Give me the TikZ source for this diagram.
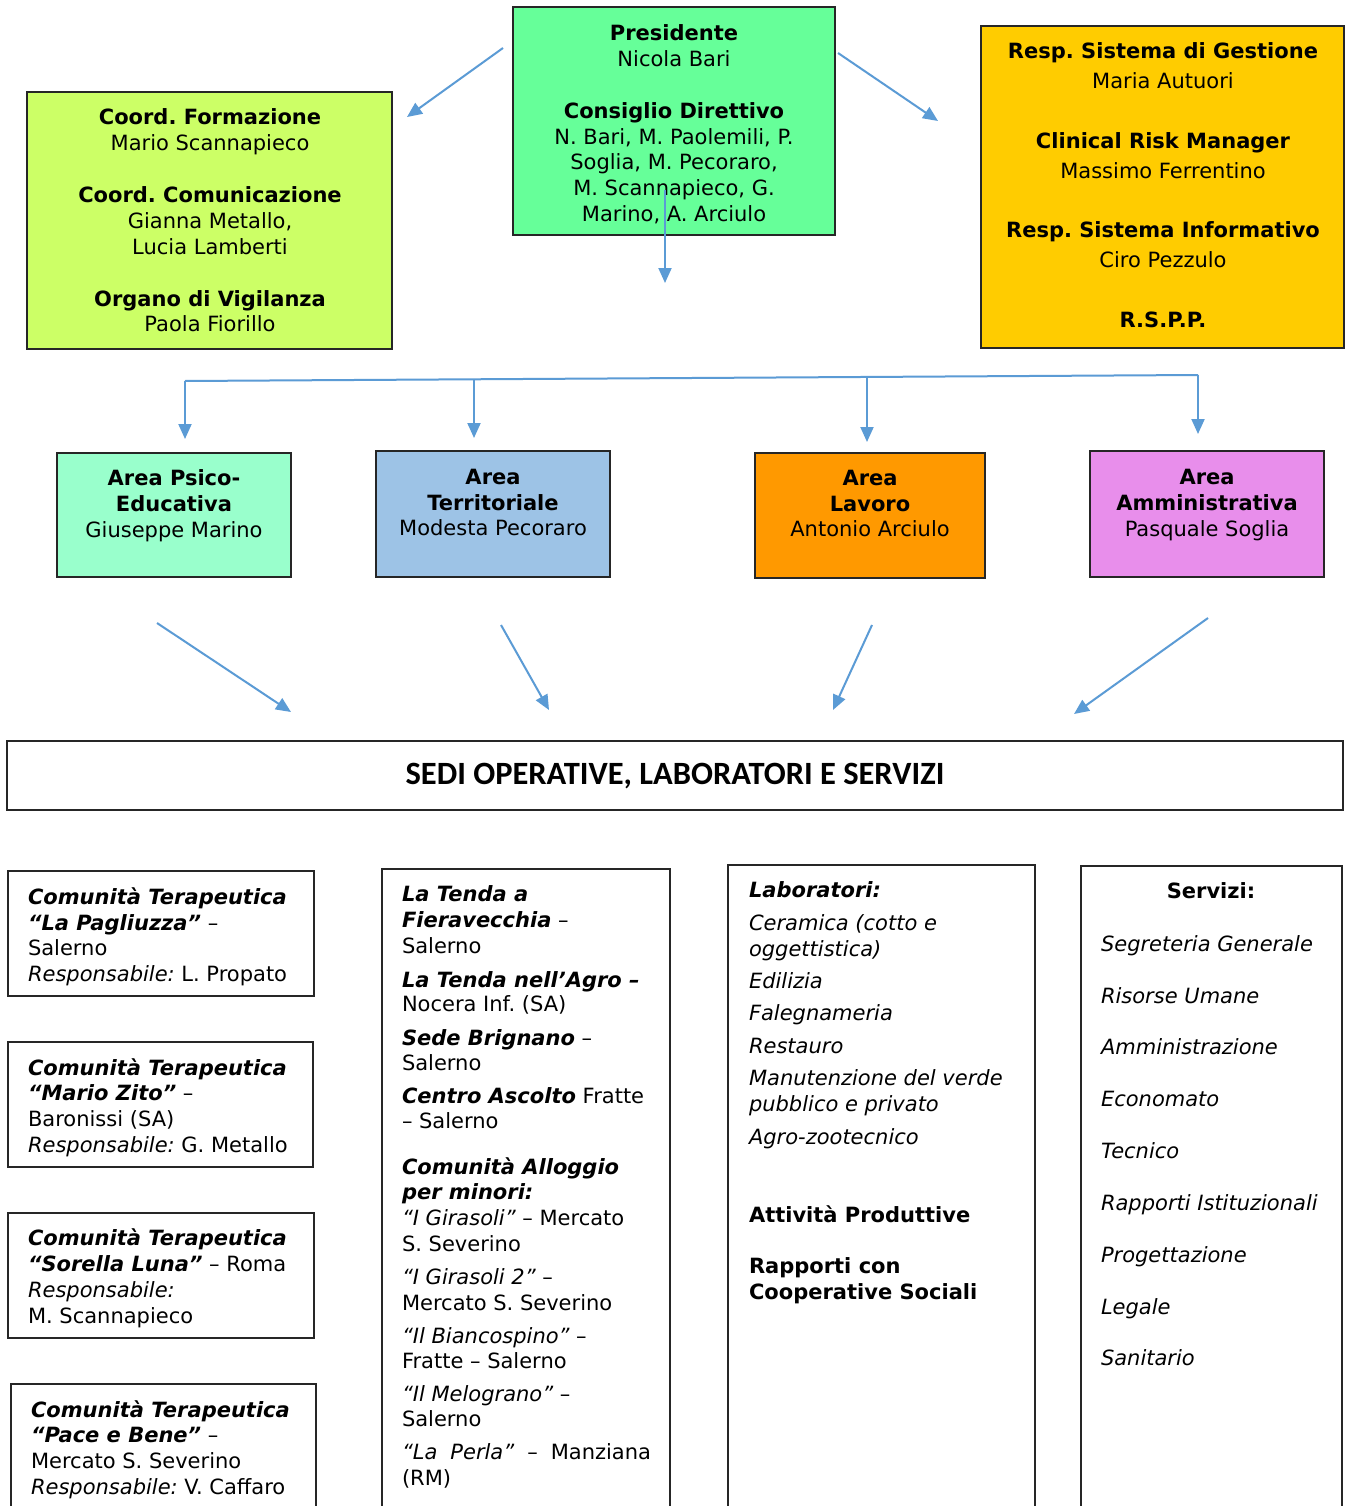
\documentclass[tikz,border=0pt]{standalone}
\usepackage{fontspec}
\setmainfont{DejaVu Sans}
\newfontfamily\titlefont{Carlito}
\usetikzlibrary{arrows.meta}
\frenchspacing
\definecolor{arrowblue}{HTML}{5B9BD5}
\definecolor{presgreen}{HTML}{66FF99}
\definecolor{leftgreen}{HTML}{CCFF66}
\definecolor{rightyellow}{HTML}{FFCC00}
\definecolor{psico}{HTML}{99FFCC}
\definecolor{territ}{HTML}{9DC3E6}
\definecolor{lavoro}{HTML}{FF9900}
\definecolor{ammin}{HTML}{E88EEB}
\begin{document}
\begin{tikzpicture}[x=1pt,y=-1pt,
  boxst/.style={draw=black!85, line width=1.3pt, inner sep=0pt, outer sep=0pt, anchor=north west},
  txt/.style={font=\fontsize{21}{26}\selectfont\frenchspacing, inner sep=0pt, outer sep=0pt},
  arr/.style={draw=arrowblue, line width=2pt, -{Triangle[length=15pt,width=13pt]}},
  lin/.style={draw=arrowblue, line width=2pt}]
\useasboundingbox (0,0) rectangle (1345,1506);
\clip (0,0) rectangle (1345,1506);
\fill[white] (0,0) rectangle (1345,1506);

% ---------- top boxes
\node[boxst, fill=presgreen, minimum width=322pt, minimum height=228pt] (pres) at (513,7) {};
\node[boxst, fill=leftgreen, minimum width=365pt, minimum height=257pt] (coord) at (27,92) {};
\node[boxst, fill=rightyellow, minimum width=363pt, minimum height=322pt] (resp) at (981,26) {};

\foreach \lyy/\ltx [count=\i] in {32/{\bfseries Presidente}, 58/{Nicola Bari},
   110/{\bfseries Consiglio Direttivo}, 136/{N. Bari, M. Paolemili, P.},
   161/{Soglia, M. Pecoraro,}, 187/{M. Scannapieco, G.}, 213/{Marino, A. Arciulo}}
  \node[txt, anchor=base] (pt\i) at (674,\lyy+8.5) {\ltx};

\foreach \lyy/\ltx [count=\i] in {116/{\bfseries Coord. Formazione}, 142/{Mario Scannapieco},
   194/{\bfseries Coord. Comunicazione}, 220/{Gianna Metallo,}, 246/{Lucia Lamberti},
   298/{\bfseries Organo di Vigilanza}, 323/{Paola Fiorillo}}
  \node[txt, anchor=base] (ct\i) at (210,\lyy+8.5) {\ltx};

\foreach \lyy/\ltx [count=\i] in {50/{\bfseries Resp. Sistema di Gestione}, 80/{Maria Autuori},
   140/{\bfseries Clinical Risk Manager}, 170/{Massimo Ferrentino},
   229/{\bfseries Resp. Sistema Informativo}, 259/{Ciro Pezzulo},
   319/{\bfseries R.S.P.P.}}
  \node[txt, anchor=base] (rt\i) at (1163,\lyy+8.5) {\ltx};

% ---------- arrows from presidente
\coordinate (pa1) at (503,48);  \coordinate (pb1) at (407,117);
\coordinate (pa2) at (838,53);  \coordinate (pb2) at (938,121);
\coordinate (pa3) at (665,190); \coordinate (pb3) at (665,283);
\draw[arr] (pa1) -- (pb1);
\draw[arr] (pa2) -- (pb2);
\draw[arr] (pa3) -- (pb3);

% ---------- area boxes
\node[boxst, fill=psico, minimum width=234pt, minimum height=124pt] (a1) at (57,453) {};
\node[boxst, fill=territ, minimum width=234pt, minimum height=126pt] (a2) at (376,451) {};
\node[boxst, fill=lavoro, minimum width=230pt, minimum height=125pt] (a3) at (755,453) {};
\node[boxst, fill=ammin, minimum width=234pt, minimum height=126pt] (a4) at (1090,451) {};

\node[txt, anchor=base] (a1t1) at (174,485.5) {\bfseries Area Psico-};
\node[txt, anchor=base] (a1t2) at (174,511.5) {\bfseries Educativa};
\node[txt, anchor=base] (a1t3) at (174,537.5) {Giuseppe Marino};
\node[txt, anchor=base] (a2t1) at (493,484.5) {\bfseries Area};
\node[txt, anchor=base] (a2t2) at (493,510.5) {\bfseries Territoriale};
\node[txt, anchor=base] (a2t3) at (493,535.5) {Modesta Pecoraro};
\node[txt, anchor=base] (a3t1) at (870,485.5) {\bfseries Area};
\node[txt, anchor=base] (a3t2) at (870,511.5) {\bfseries Lavoro};
\node[txt, anchor=base] (a3t3) at (870,536.5) {Antonio Arciulo};
\node[txt, anchor=base] (a4t1) at (1207,484.5) {\bfseries Area};
\node[txt, anchor=base] (a4t2) at (1207,510.5) {\bfseries Amministrativa};
\node[txt, anchor=base] (a4t3) at (1207,536.5) {Pasquale Soglia};

% ---------- tree connector
\coordinate (h1) at (185,381);
\coordinate (h2) at (474,379.3);
\coordinate (h3) at (867,377);
\coordinate (h4) at (1198,375);
\coordinate (d1) at (185,439);
\coordinate (d2) at (474,438);
\coordinate (d3) at (867,442);
\coordinate (d4) at (1198,434);
\draw[lin] (h1) -- (h4);
\draw[arr] (h1) -- (d1);
\draw[arr] (h2) -- (d2);
\draw[arr] (h3) -- (d3);
\draw[arr] (h4) -- (d4);

% ---------- arrows to sedi
\coordinate (s1a) at (157,623);  \coordinate (s1b) at (291,712);
\coordinate (s2a) at (501,625);  \coordinate (s2b) at (549,710);
\coordinate (s3a) at (872,625);  \coordinate (s3b) at (833,710);
\coordinate (s4a) at (1208,618); \coordinate (s4b) at (1074,714);
\draw[arr] (s1a) -- (s1b);
\draw[arr] (s2a) -- (s2b);
\draw[arr] (s3a) -- (s3b);
\draw[arr] (s4a) -- (s4b);

% ---------- sedi box
\node[boxst, fill=white, minimum width=1336pt, minimum height=69pt] (sedi) at (7,741) {};
\node[inner sep=0pt, font=\titlefont\bfseries\fontsize{32.5}{38}\selectfont] (seditxt) at ([yshift=-1pt]sedi.center) {SEDI OPERATIVE, LABORATORI E SERVIZI};

% ---------- column 1 boxes
\node[boxst, minimum width=306pt, minimum height=125pt] (c1) at (8,871) {};
\node[boxst, minimum width=305pt, minimum height=125pt] (c2) at (8,1042) {};
\node[boxst, minimum width=306pt, minimum height=125pt] (c3) at (8,1213) {};
\node[boxst, minimum width=305pt, minimum height=140pt] (c4) at (11,1384) {};

\foreach \lyy/\ltx [count=\i] in {896/{\bfseries\itshape Comunità Terapeutica},
   922/{{\bfseries\itshape “La Pagliuzza”} –}, 947/{Salerno},
   973/{{\itshape Responsabile:} L. Propato}}
  \node[txt, anchor=base west] (c1t\i) at (28,\lyy+8.5) {\ltx};
\foreach \lyy/\ltx [count=\i] in {1067/{\bfseries\itshape Comunità Terapeutica},
   1092/{{\bfseries\itshape “Mario Zito”} –}, 1118/{Baronissi (SA)},
   1144/{{\itshape Responsabile:} G. Metallo}}
  \node[txt, anchor=base west] (c2t\i) at (28,\lyy+8.5) {\ltx};
\foreach \lyy/\ltx [count=\i] in {1237/{\bfseries\itshape Comunità Terapeutica},
   1263/{{\bfseries\itshape “Sorella Luna”} – Roma}, 1289/{\itshape Responsabile:},
   1315/{M. Scannapieco}}
  \node[txt, anchor=base west] (c3t\i) at (28,\lyy+8.5) {\ltx};
\foreach \lyy/\ltx [count=\i] in {1409/{\bfseries\itshape Comunità Terapeutica},
   1434/{{\bfseries\itshape “Pace e Bene”} –}, 1460/{Mercato S. Severino},
   1486/{{\itshape Responsabile:} V. Caffaro}}
  \node[txt, anchor=base west] (c4t\i) at (31,\lyy+8.5) {\ltx};

% ---------- column 2
\node[boxst, minimum width=288pt, minimum height=660pt] (col2) at (382,869) {};
\foreach \lyy/\ltx [count=\i] in {893/{\bfseries\itshape La Tenda a},
   919/{{\bfseries\itshape Fieravecchia} –}, 945/{Salerno},
   979/{\bfseries\itshape La Tenda nell’Agro –}, 1003/{Nocera Inf. (SA)},
   1037/{{\bfseries\itshape Sede Brignano} –}, 1062/{Salerno},
   1095/{{\bfseries\itshape Centro Ascolto} Fratte}, 1120/{– Salerno},
   1166/{\bfseries\itshape Comunità Alloggio}, 1191/{\bfseries\itshape per minori:},
   1217/{{\itshape “I Girasoli”} – Mercato}, 1243/{S. Severino},
   1276/{{\itshape “I Girasoli 2”} –}, 1302/{Mercato S. Severino},
   1335/{{\itshape “Il Biancospino”} –}, 1360/{Fratte – Salerno},
   1393/{{\itshape “Il Melograno”} –}, 1418/{Salerno},
   1451/{\makebox[249pt][s]{{\itshape “La Perla”} – Manziana}}, 1477/{(RM)}}
  \node[txt, anchor=base west] (k2t\i) at (402,\lyy+8.5) {\ltx};

% ---------- column 3
\node[boxst, minimum width=307pt, minimum height=660pt] (col3) at (728,865) {};
\foreach \lyy/\ltx [count=\i] in {889/{\bfseries\itshape Laboratori:},
   922/{\itshape Ceramica (cotto e}, 948/{\itshape oggettistica)},
   980/{\itshape Edilizia}, 1012/{\itshape Falegnameria}, 1045/{\itshape Restauro},
   1077/{\itshape Manutenzione del verde}, 1103/{\itshape pubblico e privato},
   1136/{\itshape Agro-zootecnico},
   1214/{\bfseries Attività Produttive}, 1265/{\bfseries Rapporti con},
   1291/{\bfseries Cooperative Sociali}}
  \node[txt, anchor=base west] (k3t\i) at (749,\lyy+8.5) {\ltx};

% ---------- column 4
\node[boxst, minimum width=261pt, minimum height=660pt] (col4) at (1081,866) {};
\node[txt, anchor=base] (k4t0) at (1211,898.5) {\bfseries Servizi:};
\foreach \lyy/\ltx [count=\i] in {943/{Segreteria Generale}, 995/{Risorse Umane},
   1046/{Amministrazione}, 1098/{Economato}, 1150/{Tecnico},
   1202/{Rapporti Istituzionali}, 1254/{Progettazione}, 1306/{Legale}, 1357/{Sanitario}}
  \node[txt, anchor=base west, font=\fontsize{21}{26}\selectfont\itshape] (k4t\i) at (1101,\lyy+8.5) {\ltx};
\end{tikzpicture}
\end{document}
